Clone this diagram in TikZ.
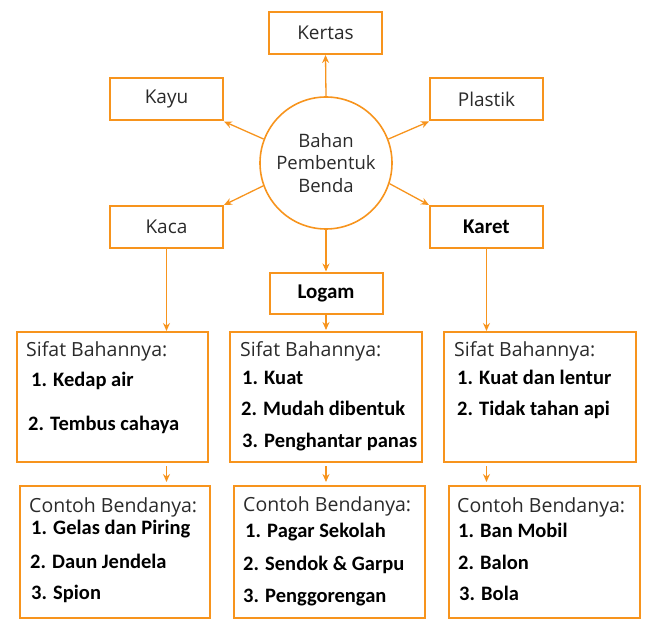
\documentclass[tikz,border=0pt]{standalone}
\usepackage{fontspec}
\setmainfont{Open Sans}
\newfontfamily\isifont{Carlito}
\usetikzlibrary{arrows.meta}
\definecolor{oranye}{HTML}{F7941D}
\definecolor{teks}{HTML}{2A2A2A}

\begin{document}
\begin{tikzpicture}[x=1pt, y=-1pt,
    kotak/.style={draw=oranye, line width=2pt, inner sep=0pt,
        minimum width=113pt, minimum height=42pt,
        font=\fontsize{19}{22}\selectfont, text=teks},
    kotaktebal/.style={kotak, font=\isifont\bfseries\fontsize{21}{24}\selectfont, text=black},
    wadah/.style={draw=oranye, line width=2pt, inner sep=0pt,
        minimum width=191pt, minimum height=130pt},
    judul/.style={anchor=west, inner sep=0pt, text=teks,
        font=\fontsize{19.5}{22}\selectfont},
    isi/.style={anchor=west, inner sep=0pt, text=black,
        font=\isifont\bfseries\fontsize{20.5}{24}\selectfont},
    panah/.style={draw=oranye, line width=1.3pt,
        -{Stealth[length=8pt,width=7pt]}},
    panahkecil/.style={panah, shorten <=3pt, shorten >=3pt}]

\useasboundingbox (0,0) rectangle (650,628);

% bahan utama
\node[circle, draw=oranye, line width=1.6pt, minimum size=132pt, inner sep=0pt,
    align=center, text=teks, font=\fontsize{18.5}{22.5}\selectfont]
    (bahan) at (326,163) {Bahan\\Pembentuk\\Benda};

\node[kotak] (kertas) at (325.5,33) {Kertas};
\node[kotak] (kayu) at (166.5,99.5) {Kayu};
\node[kotak] (plastik) at (486.5,99.5) {Plastik};
\node[kotak] (kaca) at (166.5,227) {Kaca};
\node[kotaktebal] (karet) at (486.5,227) {Karet};
\node[kotaktebal, minimum height=41pt] (logam) at (326,293) {Logam};

\draw[panah] (bahan.north) -- (kertas.south);
\draw[panah] (bahan.159) -- (kayu.south east);
\draw[panah] (bahan.21) -- (plastik.south west);
\draw[panah] (bahan.200) -- (kaca.north east);
\draw[panah] (bahan.-18) -- (karet.north west);
\draw[panah] (bahan.south) -- (logam.north);

% sifat bahan
\node[wadah] (sifatA) at (112.5,397) {};
\node[wadah, minimum width=192pt] (sifatB) at (326,397) {};
\node[wadah, minimum width=192pt] (sifatC) at (540,397) {};

\draw[panah] (kaca.south) -- (kaca.south |- sifatA.north);
\draw[panah, shorten >=1pt] (logam.south) -- (sifatB.north);
\draw[panah] (karet.south) -- (karet.south |- sifatC.north);

\node[judul] (jsA) at (26,351) {Sifat Bahannya:};
\node[isi] (sA1) at (31,381) {1. Kedap air};
\node[isi] (sA2) at (28,425) {2. Tembus cahaya};

\node[judul] (jsB) at (240,351) {Sifat Bahannya:};
\node[isi] (sB1) at (242,378) {1. Kuat};
\node[isi] (sB2) at (241,408) {2. Mudah dibentuk};
\node[isi] (sB3) at (242,442) {3. Penghantar panas};

\node[judul] (jsC) at (454,351) {Sifat Bahannya:};
\node[isi] (sC1) at (457,377) {1. Kuat dan lentur};
\node[isi] (sC2) at (457,410) {2. Tidak tahan api};

% contoh benda
\node[wadah, minimum width=190pt, minimum height=132pt] (contohA) at (115,552) {};
\node[wadah, minimum width=191pt, minimum height=132pt] (contohB) at (329.5,552) {};
\node[wadah, minimum width=191pt, minimum height=132pt] (contohC) at (544.5,552) {};

\draw[panahkecil] (sifatA.south -| kaca.south) -- (contohA.north -| kaca.south);
\draw[panahkecil] (sifatB.south -| logam.south) -- (contohB.north -| logam.south);
\draw[panahkecil] (sifatC.south -| karet.south) -- (contohC.north -| karet.south);

\node[judul] (jcA) at (29,507) {Contoh Bendanya:};
\node[isi] (cA1) at (31,529) {1. Gelas dan Piring};
\node[isi] (cA2) at (30,561) {2. Daun Jendela};
\node[isi] (cA3) at (31,594) {3. Spion};

\node[judul] (jcB) at (243,506) {Contoh Bendanya:};
\node[isi] (cB1) at (245,532) {1. Pagar Sekolah};
\node[isi] (cB2) at (243,565) {2. Sendok \& Garpu};
\node[isi] (cB3) at (243,598) {3. Penggorengan};

\node[judul] (jcC) at (457,507) {Contoh Bendanya:};
\node[isi] (cC1) at (458,530) {1. Ban Mobil};
\node[isi] (cC2) at (458,562) {2. Balon};
\node[isi] (cC3) at (459,593) {3. Bola};
\end{tikzpicture}
\end{document}
